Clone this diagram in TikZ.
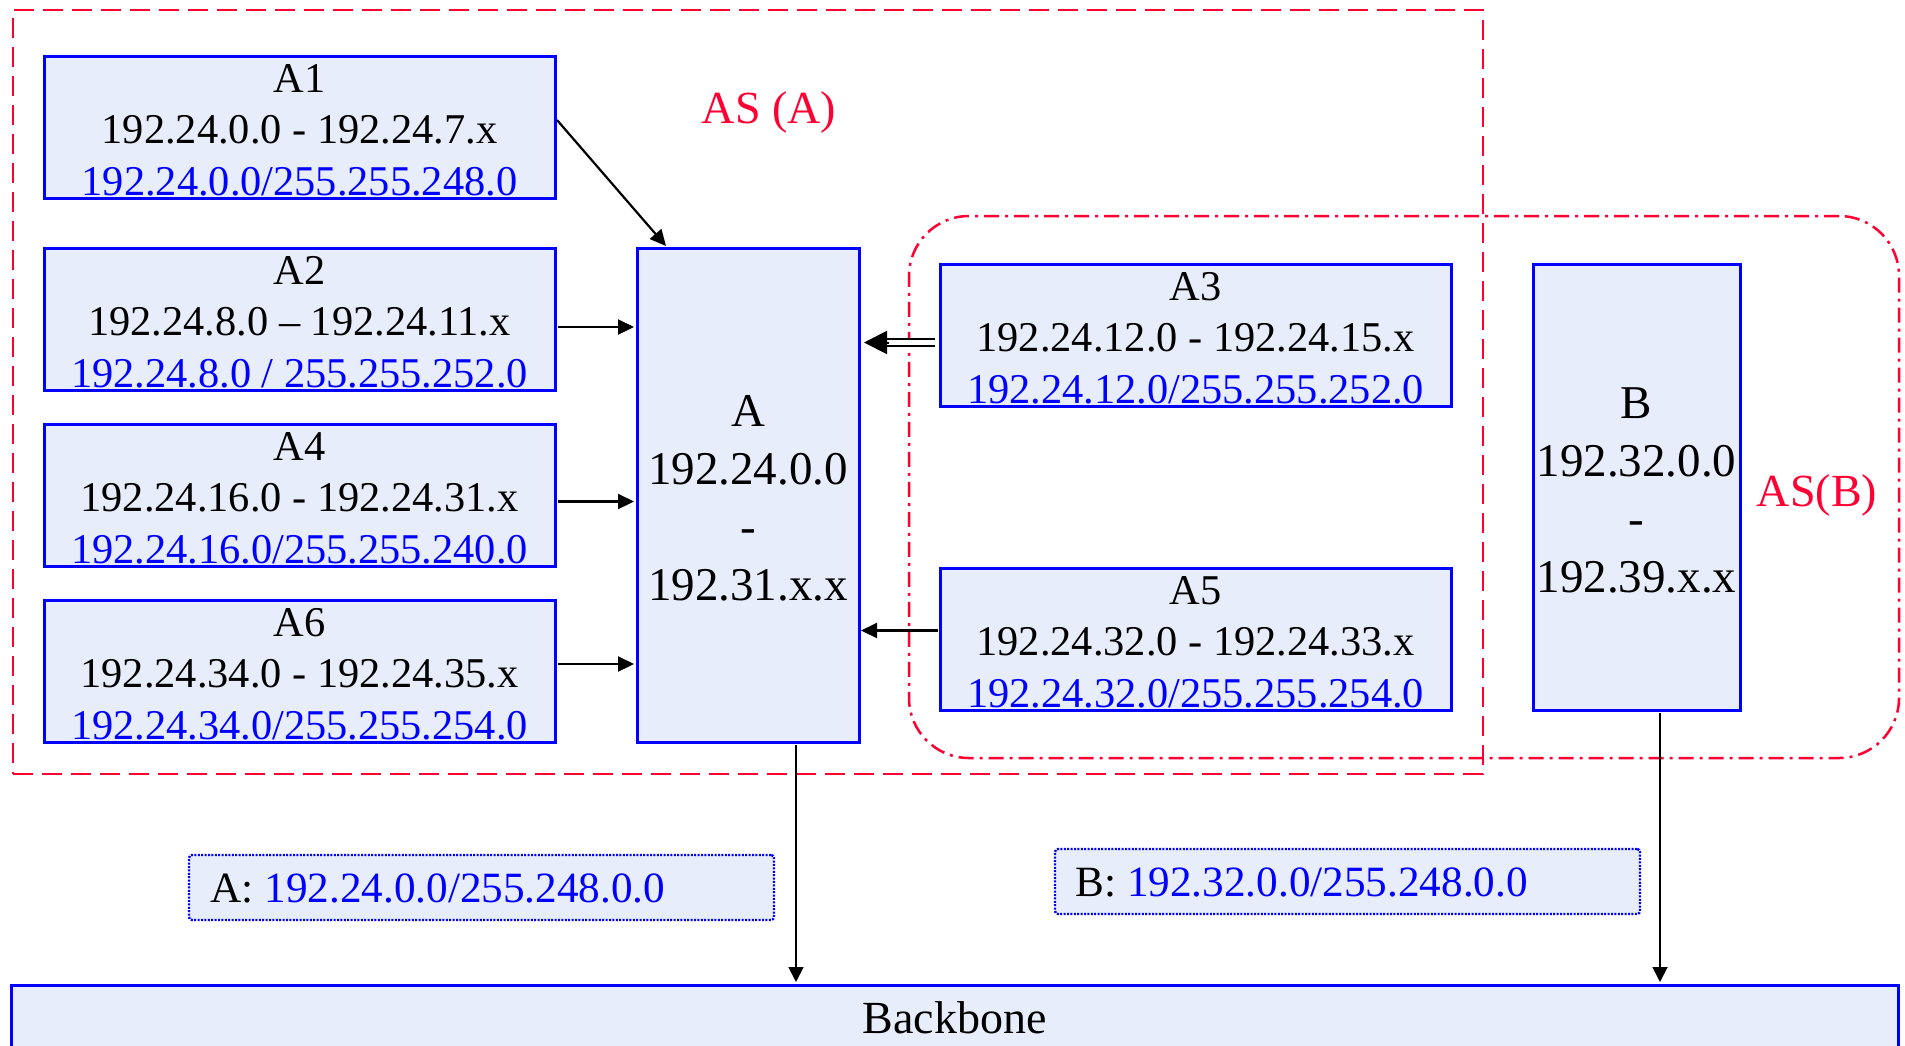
\documentclass[tikz,border=0pt]{standalone}
\usepackage{fontspec}
\setmainfont{Liberation Serif}
\usetikzlibrary{arrows.meta,calc}
\definecolor{netblue}{RGB}{0,0,255}
\definecolor{netfill}{RGB}{232,237,252}
\definecolor{asred}{RGB}{255,0,51}
\newcommand\netlines[4]{%
  \node[smalltxt] at ($(#1.north)+(0,36)$) {#2};
  \node[smalltxt] at ($(#1.north)+(0,87)$) {#3};
  \node[smalltxt,text=netblue] at ($(#1.north)+(0,139)$) {#4};
}
\newcommand\biglines[5]{%
  \node[bigtxt] at ($(#1.center)+(0,-69)$) {#2};
  \node[bigtxt] at ($(#1.center)+(0,-11)$) {#3};
  \node[bigtxt] at ($(#1.center)+(0,47)$) {#4};
  \node[bigtxt] at ($(#1.center)+(0,105)$) {#5};
}
\begin{document}
\begin{tikzpicture}[x=0.5pt,y=-0.5pt,
  netbox/.style={draw=netblue,fill=netfill,line width=1.5pt,inner sep=0pt,outer sep=0pt,anchor=north west},
  smallnet/.style={netbox,minimum width=255.5pt,minimum height=71pt},
  lblbox/.style={draw=netblue,fill=netfill,line width=1.2pt,dash pattern=on 1pt off 0.7pt,rounded corners=1.5pt,inner sep=0pt,outer sep=0pt,anchor=north west,minimum width=292.5pt,minimum height=32.5pt},
  smalltxt/.style={font=\fontsize{21.2pt}{25pt}\selectfont,inner sep=0pt,anchor=base},
  bigtxt/.style={font=\fontsize{23.5pt}{28pt}\selectfont,inner sep=0pt,anchor=base},
  lbltxt/.style={font=\fontsize{21.6pt}{26pt}\selectfont,inner sep=0pt,anchor=base west},
  astxt/.style={font=\fontsize{23pt}{28pt}\selectfont,text=asred,inner sep=0pt,anchor=base},
  arr/.style={line width=1.1pt,-{Triangle[length=8pt,width=7.5pt]}},
  varr/.style={line width=0.85pt,-{Triangle[length=7.5pt,width=7.5pt]}},
  asAbox/.style={draw=asred,line width=1.25pt,dash pattern=on 10pt off 4.5pt,inner sep=0pt,outer sep=0pt,anchor=north west},
  asBbox/.style={draw=asred,line width=1.25pt,dash pattern=on 7.5pt off 3pt on 1.5pt off 3pt,rounded corners=30pt,inner sep=0pt,outer sep=0pt,anchor=north west}
]
\useasboundingbox (0,0) rectangle (1905,1045);

% autonomous system outlines
\node[asAbox,minimum width=735pt,minimum height=382pt] (asA) at (13,10) {};
\node[asBbox,minimum width=495pt,minimum height=271pt] (asB) at (909,216) {};
\node[astxt] (asAlbl) at (769,123) {AS (A)};
\node[astxt] (asBlbl) at (1817,506) {AS(B)};

% small networks
\node[smallnet] (A1) at (44,56) {};
\node[smallnet] (A2) at (44,248) {};
\node[smallnet] (A4) at (44,424) {};
\node[smallnet] (A6) at (44,600) {};
\node[smallnet] (A3) at (940,264) {};
\node[smallnet] (A5) at (940,568) {};
\netlines{A1}{A1}{192.24.0.0 - 192.24.7.x}{192.24.0.0/255.255.248.0}
\netlines{A2}{A2}{192.24.8.0 – 192.24.11.x}{192.24.8.0 / 255.255.252.0}
\netlines{A4}{A4}{192.24.16.0 - 192.24.31.x}{192.24.16.0/255.255.240.0}
\netlines{A6}{A6}{192.24.34.0 - 192.24.35.x}{192.24.34.0/255.255.254.0}
\netlines{A3}{A3}{192.24.12.0 - 192.24.15.x}{192.24.12.0/255.255.252.0}
\netlines{A5}{A5}{192.24.32.0 - 192.24.33.x}{192.24.32.0/255.255.254.0}

% aggregate networks
\node[netbox,minimum width=111pt,minimum height=247pt] (A) at (637,248) {};
\node[netbox,minimum width=103.5pt,minimum height=223pt] (B) at (1533,264) {};
\biglines{A}{A}{192.24.0.0}{-}{192.31.x.x}
\biglines{B}{B}{192.32.0.0}{-}{192.39.x.x}

% backbone
\node[netbox,minimum width=943.5pt,minimum height=45pt] (BB) at (11,985) {};
\node[bigtxt,font=\fontsize{23pt}{28pt}\selectfont] (BBt) at ($(BB.north)+(0,48)$) {Backbone};

% announcement labels
\node[lblbox] (LA) at (189,855) {};
\node[lbltxt] (LAt) at ($(LA.west)+(21,15)$) {A: \textcolor{netblue}{192.24.0.0/255.248.0.0}};
\node[lblbox] (LB) at (1055,849) {};
\node[lbltxt] (LBt) at ($(LB.west)+(20,15)$) {B: \textcolor{netblue}{192.32.0.0/255.248.0.0}};

% connectors into A
\draw[arr] ($(A1.east)+(2,-7)$) -- ($(A.north west)+(29,-2)$);
\draw[arr] ($(A2.east)+(3,8)$) -- ($(A.west|-A2.east)+(-3,8)$);
\draw[arr] ($(A4.east)+(3,6.5)$) -- ($(A.west|-A4.east)+(-3,6.5)$);
\draw[arr] ($(A6.east)+(3,-7)$) -- ($(A.west|-A6.east)+(-3,-7)$);
\draw[line width=1pt,double=white,double distance=2.15pt] ($(A3.west)+(-5,7.5)$) -- ($(A.east|-A3.west)+(27,7.5)$);
\draw[line width=1pt,-{Triangle[length=11.5pt,width=11.5pt]}] ($(A.east|-A3.west)+(30,7.5)$) -- ($(A.east|-A3.west)+(5,7.5)$);
\draw[arr] ($(A5.west)+(-2,-8.5)$) -- ($(A.east|-A5.west)+(2,-8.5)$);

% connectors to backbone
\coordinate (ta) at ($(A.south)+(48,3)$);
\coordinate (tb) at ($(B.south)+(23.5,3)$);
\draw[varr] (ta) -- ($(ta|-BB.north)+(0,-3)$);
\draw[varr] (tb) -- ($(tb|-BB.north)+(0,-3)$);
\end{tikzpicture}
\end{document}
